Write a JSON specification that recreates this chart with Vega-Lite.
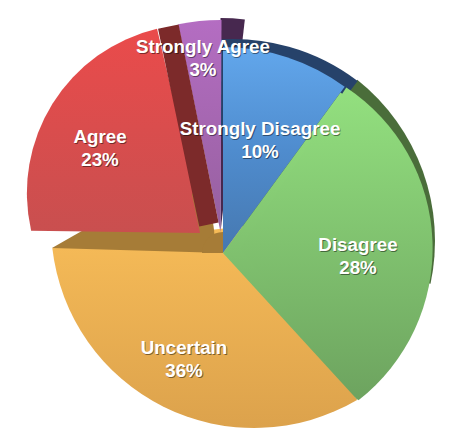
{"$schema":"https://vega.github.io/schema/vega-lite/v6.json","width":474,"height":440,"padding":0,"autosize":"none","background":"white","config":{"view":{"stroke":null},"arc":{"stroke":null,"strokeWidth":0,"padAngle":0,"cornerRadius":0}},"data":{"values":[{"order":1,"response":"Strongly Disagree","percent":10},{"order":2,"response":"Disagree","percent":28},{"order":3,"response":"Uncertain","percent":36},{"order":4,"response":"Agree","percent":23},{"order":5,"response":"Strongly Agree","percent":3}]},"transform":[{"stack":"percent","groupby":[],"sort":[{"field":"order"}],"as":["start","end"]},{"calculate":"datum.response + '\\n' + datum.percent + '%'","as":"label"}],"resolve":{"scale":{"theta":"independent"}},"layer":[
{"transform":[{"filter":"datum.order==2"}],"mark":{"type":"arc","fill":"#4a6d3a","xOffset":-8,"yOffset":21,"radius":206,"theta":0.672,"theta2":1.78},"encoding":{}},
{"transform":[{"filter":"datum.order==5"}],"mark":{"type":"arc","fill":"#47284f","xOffset":-16.5,"yOffset":12,"radius":214,"theta":0,"theta2":0.114},"encoding":{}},
{"transform":[{"filter":"datum.order==1"}],"mark":{"type":"arc","fill":"#26426a","xOffset":-4,"yOffset":25,"radius":206,"theta":-0.1,"theta2":0.65},"encoding":{}},
{"transform":[{"filter":"datum.order==3"}],"mark":{"type":"arc","xOffset":-14,"yOffset":33,"radius":150,"fill":{"gradient":"linear","x1":0,"y1":0,"x2":0,"y2":1,"stops":[{"offset":0,"color":"#f5ba57"},{"offset":1,"color":"#e2a84f"}]}},"encoding":{"theta":{"field":"start","type":"quantitative","scale":{"domain":[0,100],"range":[-0.0646,6.431]}},"theta2":{"field":"end"}}},
{"transform":[{"filter":"datum.order==3"}],"mark":{"type":"arc","xOffset":17,"yOffset":5,"radius":203,"theta":2.609,"theta2":4.599,"fill":{"gradient":"linear","x1":0,"y1":0,"x2":0,"y2":1,"stops":[{"offset":0,"color":"#f7bc58"},{"offset":1,"color":"#dca24c"}]}},"encoding":{}},
{"transform":[{"filter":"datum.order==3"}],"mark":{"type":"arc","fill":"#a67c37","xOffset":-185,"yOffset":28,"radius":163,"theta":1.052,"theta2":1.6},"encoding":{}},
{"transform":[{"filter":"datum.order==3"}],"mark":{"type":"arc","fill":"#a67c37","xOffset":-14,"yOffset":33,"radius":21,"theta":4.712,"theta2":6.283},"encoding":{}},
{"transform":[{"filter":"datum.order==5"}],"mark":{"type":"arc","xOffset":-16.5,"yOffset":12,"radius":212,"fill":{"gradient":"linear","x1":0,"y1":0,"x2":0,"y2":1,"stops":[{"offset":0,"color":"#b46dc2"},{"offset":1,"color":"#96609f"}]}},"encoding":{"theta":{"field":"start","type":"quantitative","scale":{"domain":[0,100],"range":[-0.571,6.288]}},"theta2":{"field":"end"}}},
{"transform":[{"filter":"datum.order==4"}],"mark":{"type":"arc","xOffset":-37,"yOffset":13,"radius":169,"fill":{"gradient":"linear","x1":0,"y1":0,"x2":0,"y2":1,"stops":[{"offset":0,"color":"#e34c4b"},{"offset":1,"color":"#c94f4f"}]}},"encoding":{"theta":{"field":"start","type":"quantitative","scale":{"domain":[0,100],"range":[0.3735,6.2552]}},"theta2":{"field":"end"}}},
{"transform":[{"filter":"datum.order==4"}],"mark":{"type":"arc","xOffset":-41.5,"yOffset":-27,"radius":168.6,"theta":4.491,"theta2":6.053,"fill":{"gradient":"linear","x1":0,"y1":0,"x2":0,"y2":1,"stops":[{"offset":0,"color":"#ea4b4b"},{"offset":1,"color":"#c94f4f"}]}},"encoding":{}},
{"transform":[{"filter":"datum.order==4"}],"mark":{"type":"arc","fill":"#7c2a2a","xOffset":574.9,"yOffset":2945.3,"radius":3204,"radius2":3002,"theta":6.07767,"theta2":6.08423},"encoding":{}},
{"transform":[{"filter":"datum.order==1"}],"mark":{"type":"arc","xOffset":-14,"yOffset":33,"radius":206,"fill":{"gradient":"linear","x1":0,"y1":0,"x2":0,"y2":1,"stops":[{"offset":0,"color":"#62a7ec"},{"offset":0.5,"color":"#4f8cce"},{"offset":1,"color":"#4678b0"}]}},"encoding":{"theta":{"field":"start","type":"quantitative","scale":{"domain":[0,100],"range":[0,6.318]}},"theta2":{"field":"end"}}},
{"transform":[{"filter":"datum.order==2"}],"mark":{"type":"arc","xOffset":-14,"yOffset":33,"radius":199,"fill":{"gradient":"linear","x1":0,"y1":0,"x2":0,"y2":1,"stops":[{"offset":0,"color":"#93e07f"},{"offset":0.5,"color":"#80c26f"},{"offset":1,"color":"#6da35f"}]}},"encoding":{"theta":{"field":"start","type":"quantitative","scale":{"domain":[0,100],"range":[0,6.318]}},"theta2":{"field":"end"}}},
{"transform":[{"filter":"datum.order==2"}],"mark":{"type":"arc","xOffset":2.6,"yOffset":28.3,"radius":193,"theta":0.586,"theta2":2.478,"fill":{"gradient":"linear","x1":0,"y1":0,"x2":0,"y2":1,"stops":[{"offset":0,"color":"#93e07f"},{"offset":0.5,"color":"#80c26f"},{"offset":1,"color":"#6da35f"}]}},"encoding":{}},
{"transform":[{"filter":"datum.order==1"}],"mark":{"type":"text","font":"Liberation Sans","fontWeight":"bold","fontSize":18.8,"lineBreak":"\n","lineHeight":23,"fill":"#000","opacity":0.45,"dx":23.8,"dy":-89.8},"encoding":{"text":{"field":"label"}}},
{"transform":[{"filter":"datum.order==1"}],"mark":{"type":"text","font":"Liberation Sans","fontWeight":"bold","fontSize":18.8,"lineBreak":"\n","lineHeight":23,"fill":"#fff","dx":23,"dy":-91},"encoding":{"text":{"field":"label"}}},
{"transform":[{"filter":"datum.order==2"}],"mark":{"type":"text","font":"Liberation Sans","fontWeight":"bold","fontSize":18.8,"lineBreak":"\n","lineHeight":23,"fill":"#000","opacity":0.45,"dx":121.8,"dy":26.2},"encoding":{"text":{"field":"label"}}},
{"transform":[{"filter":"datum.order==2"}],"mark":{"type":"text","font":"Liberation Sans","fontWeight":"bold","fontSize":18.8,"lineBreak":"\n","lineHeight":23,"fill":"#fff","dx":121,"dy":25},"encoding":{"text":{"field":"label"}}},
{"transform":[{"filter":"datum.order==3"}],"mark":{"type":"text","font":"Liberation Sans","fontWeight":"bold","fontSize":18.8,"lineBreak":"\n","lineHeight":23,"fill":"#000","opacity":0.45,"dx":-52.2,"dy":129.2},"encoding":{"text":{"field":"label"}}},
{"transform":[{"filter":"datum.order==3"}],"mark":{"type":"text","font":"Liberation Sans","fontWeight":"bold","fontSize":18.8,"lineBreak":"\n","lineHeight":23,"fill":"#fff","dx":-53,"dy":128},"encoding":{"text":{"field":"label"}}},
{"transform":[{"filter":"datum.order==4"}],"mark":{"type":"text","font":"Liberation Sans","fontWeight":"bold","fontSize":18.8,"lineBreak":"\n","lineHeight":23,"fill":"#000","opacity":0.45,"dx":-136.2,"dy":-81.8},"encoding":{"text":{"field":"label"}}},
{"transform":[{"filter":"datum.order==4"}],"mark":{"type":"text","font":"Liberation Sans","fontWeight":"bold","fontSize":18.8,"lineBreak":"\n","lineHeight":23,"fill":"#fff","dx":-137,"dy":-83},"encoding":{"text":{"field":"label"}}},
{"transform":[{"filter":"datum.order==5"}],"mark":{"type":"text","font":"Liberation Sans","fontWeight":"bold","fontSize":18.8,"lineBreak":"\n","lineHeight":23,"fill":"#000","opacity":0.45,"dx":-33.2,"dy":-171.8},"encoding":{"text":{"field":"label"}}},
{"transform":[{"filter":"datum.order==5"}],"mark":{"type":"text","font":"Liberation Sans","fontWeight":"bold","fontSize":18.8,"lineBreak":"\n","lineHeight":23,"fill":"#fff","dx":-34,"dy":-173},"encoding":{"text":{"field":"label"}}}
]}
